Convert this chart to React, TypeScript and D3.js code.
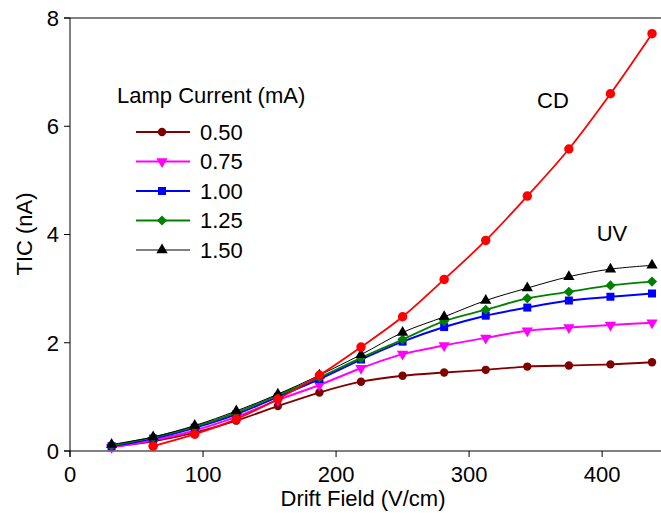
import React from "react";
import * as d3 from "d3";

const fields = [31.25, 62.5, 93.75, 125, 156.25, 187.5, 218.75, 250, 281.25, 312.5, 343.75, 375, 406.25, 437.5];
const lamp050 = [0.08, 0.18, 0.34, 0.56, 0.83, 1.08, 1.28, 1.39, 1.45, 1.5, 1.56, 1.58, 1.6, 1.64];
const lamp075 = [0.07, 0.2, 0.38, 0.63, 0.94, 1.22, 1.53, 1.79, 1.95, 2.09, 2.22, 2.28, 2.33, 2.37];
const lamp100 = [0.09, 0.23, 0.43, 0.68, 1.0, 1.33, 1.69, 2.02, 2.29, 2.5, 2.65, 2.78, 2.85, 2.91];
const lamp125 = [0.1, 0.25, 0.45, 0.71, 1.03, 1.36, 1.72, 2.06, 2.4, 2.61, 2.82, 2.94, 3.06, 3.13];
const lamp150 = [0.12, 0.26, 0.47, 0.74, 1.05, 1.4, 1.78, 2.19, 2.48, 2.78, 3.01, 3.22, 3.36, 3.43];
const cdValues: (number | null)[] = [null, 0.09, 0.31, 0.59, 0.96, 1.4, 1.92, 2.48, 3.17, 3.89, 4.71, 5.58, 6.6, 7.71];

const legendLabels = ["0.50", "0.75", "1.00", "1.25", "1.50"];
const xTicks = [0, 100, 200, 300, 400];
const yTicks = [0, 2, 4, 6, 8];

type Series = {
  name: string;
  values: (number | null)[];
  color: string;
  width: number;
  symbol: d3.SymbolType;
  size: number;
  rotate: number;
  legend: boolean;
};

const series: Series[] = [
  { name: "0.50", values: lamp050, color: "#800000", width: 1.8, symbol: d3.symbolCircle, size: 55, rotate: 0, legend: true },
  { name: "0.75", values: lamp075, color: "#ff00ff", width: 2, symbol: d3.symbolTriangle, size: 55, rotate: 180, legend: true },
  { name: "1.00", values: lamp100, color: "#0000ff", width: 2, symbol: d3.symbolSquare, size: 64, rotate: 0, legend: true },
  { name: "1.25", values: lamp125, color: "#008000", width: 1.8, symbol: d3.symbolSquare, size: 52, rotate: 45, legend: true },
  { name: "1.50", values: lamp150, color: "#000000", width: 1, symbol: d3.symbolTriangle, size: 55, rotate: 0, legend: true },
  { name: "CD", values: cdValues, color: "#ff0000", width: 1.8, symbol: d3.symbolCircle, size: 70, rotate: 0, legend: false },
];

const W = 661;
const H = 513;
const FONT = "'Liberation Sans', Arial, Helvetica, sans-serif";
const FS = 22;

export default function App() {
  const x = d3.scaleLinear().domain([0, 443.5]).range([70, 660]);
  const y = d3.scaleLinear().domain([0, 8]).range([451, 18]);

  const line = d3
    .line<[number, number | null]>()
    .defined((d) => d[1] !== null)
    .x((d) => x(d[0]))
    .y((d) => y(d[1] as number))
    .curve(d3.curveCatmullRom.alpha(0.5));

  const legendSeries = series.filter((s) => s.legend);
  const legendY = d3.scalePoint<string>().domain(legendLabels).range([132, 250]);

  return (
    <svg
      width={W}
      height={H}
      style={{ position: "absolute", left: 0, top: 0, background: "#fff" }}
      fontFamily={FONT}
    >
      <rect x={0} y={0} width={W} height={H} fill="#fff" />
      {/* axes */}
      <line x1={x(0)} x2={x(0)} y1={y(8)} y2={y(0) + 6} stroke="#000" strokeWidth={1} />
      <line x1={x(0) - 6} x2={W} y1={y(0)} y2={y(0)} stroke="#000" strokeWidth={1} />
      <line x1={x(0) - 6} x2={W} y1={y(8)} y2={y(8)} stroke="#000" strokeWidth={1} />
      {yTicks.map((t) => (
        <g key={"y" + t}>
          <line x1={x(0) - 6} x2={x(0)} y1={y(t)} y2={y(t)} stroke="#000" />
          <text x={x(0) - 11} y={y(t)} dy="0.36em" textAnchor="end" fontSize={FS}>
            {t}
          </text>
        </g>
      ))}
      {xTicks.map((t) => (
        <g key={"x" + t}>
          <line x1={x(t)} x2={x(t)} y1={y(0)} y2={y(0) + 6} stroke="#000" />
          <text x={x(t)} y={y(0) + 31} textAnchor="middle" fontSize={FS}>
            {t}
          </text>
        </g>
      ))}
      <text x={363} y={506} textAnchor="middle" fontSize={FS}>
        Drift Field (V/cm)
      </text>
      <text
        transform={`translate(32,234) rotate(-90)`}
        textAnchor="middle"
        fontSize={FS}
      >
        TIC (nA)
      </text>

      {/* series */}
      {series.map((s) => {
        const pts = fields.map((f, i) => [f, s.values[i]] as [number, number | null]);
        return (
          <g key={s.name}>
            <path d={line(pts) || ""} fill="none" stroke={s.color} strokeWidth={s.width} />
            {pts
              .filter((p) => p[1] !== null)
              .map((p, i) => (
                <path
                  key={i}
                  d={d3.symbol().type(s.symbol).size(s.size)() || ""}
                  transform={`translate(${x(p[0])},${y(p[1] as number)}) rotate(${s.rotate})`}
                  fill={s.color}
                />
              ))}
          </g>
        );
      })}

      <text x={553} y={100} dy="0.36em" textAnchor="middle" fontSize={FS}>
        CD
      </text>
      <text x={612} y={233} dy="0.36em" textAnchor="middle" fontSize={FS}>
        UV
      </text>

      {/* legend */}
      <text x={117} y={95} dy="0.36em" fontSize={FS}>
        Lamp Current (mA)
      </text>
      {legendSeries.map((s) => {
        const ly = legendY(s.name) as number;
        return (
          <g key={"lg" + s.name}>
            <line x1={136} x2={190} y1={ly} y2={ly} stroke={s.color} strokeWidth={s.width} />
            <path
              d={d3.symbol().type(s.symbol).size(s.size)() || ""}
              transform={`translate(162,${ly}) rotate(${s.rotate})`}
              fill={s.color}
            />
            <text x={200} y={ly} dy="0.36em" fontSize={FS}>
              {s.name}
            </text>
          </g>
        );
      })}
    </svg>
  );
}
